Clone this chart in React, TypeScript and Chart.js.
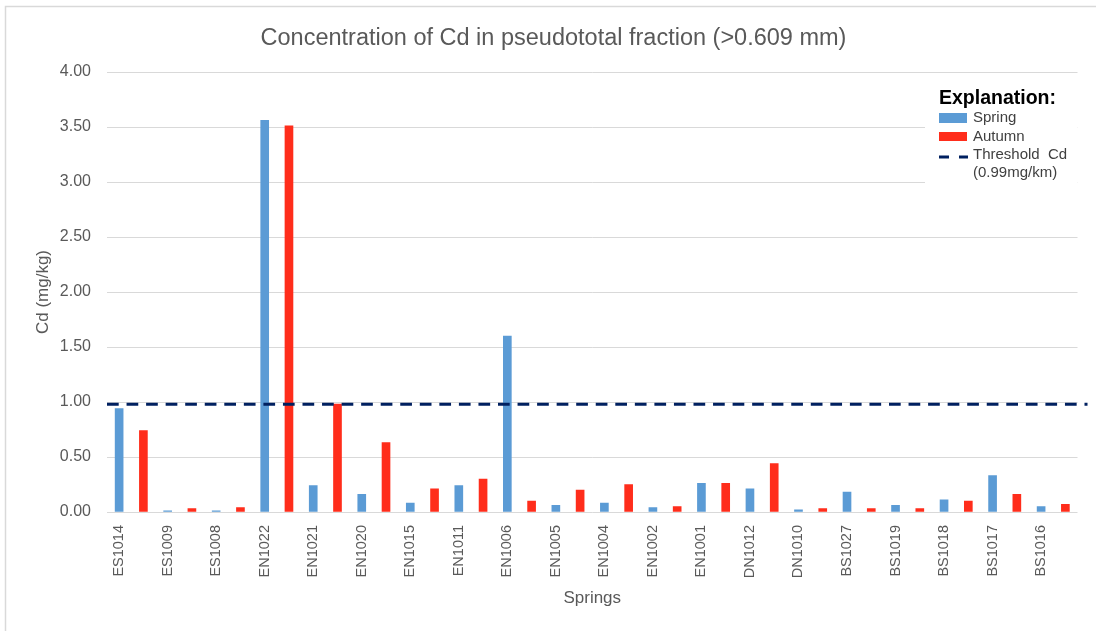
import React, { useEffect, useRef } from 'react';
import { Chart, registerables } from 'chart.js';

Chart.register(...registerables);

const stations = [
  'ES1014', 'ES1009', 'ES1008', 'EN1022', 'EN1021', 'EN1020', 'EN1015', 'EN1011', 'EN1006', 'EN1005',
  'EN1004', 'EN1002', 'EN1001', 'DN1012', 'DN1010', 'BS1027', 'BS1019', 'BS1018', 'BS1017', 'BS1016',
];
const springValues = [0.94, 0.01, 0.01, 3.56, 0.24, 0.16, 0.08, 0.24, 1.6, 0.06, 0.08, 0.04, 0.26, 0.21, 0.02, 0.18, 0.06, 0.11, 0.33, 0.05];
const autumnValues = [0.74, 0.03, 0.04, 3.51, 0.98, 0.63, 0.21, 0.3, 0.1, 0.2, 0.25, 0.05, 0.26, 0.44, 0.03, 0.03, 0.03, 0.1, 0.16, 0.07];
const thresholdValue = 0.98;

const titleText = 'Concentration of Cd in pseudototal fraction (>0.609 mm)';
const yAxisTitle = 'Cd (mg/kg)';
const xAxisTitle = 'Springs';
const legendTitle = 'Explanation:';
const legendSpring = 'Spring';
const legendAutumn = 'Autumn';
const legendThreshold1 = 'Threshold  Cd';
const legendThreshold2 = '(0.99mg/km)';

const FONT = "'Liberation Sans', Arial, Helvetica, sans-serif";
const SPRING_COLOR = '#5B9BD5';
const AUTUMN_COLOR = '#FF2D1B';
const THRESHOLD_COLOR = '#002060';
const AXIS_TEXT = '#595959';
const GRID = '#D9D9D9';

export default function App() {
  const ref = useRef<HTMLCanvasElement>(null);

  useEffect(() => {
    if (!ref.current) return;
    const labels: string[] = [];
    const springData: (number | null)[] = [];
    const autumnData: (number | null)[] = [];
    stations.forEach((s, i) => {
      labels.push(s, s);
      springData.push(springValues[i], null);
      autumnData.push(null, autumnValues[i]);
    });

    const framePlugin = {
      id: 'frame',
      beforeDraw(chart: any) {
        const ctx = chart.ctx;
        ctx.save();
        ctx.fillStyle = '#ffffff';
        ctx.fillRect(0, 0, chart.width, chart.height);
        ctx.strokeStyle = GRID;
        ctx.lineWidth = 1.5;
        ctx.strokeRect(5.5, 6.5, chart.width + 20, chart.height + 20);
        ctx.restore();
      },
    };

    const overlayPlugin = {
      id: 'overlay',
      afterDatasetsDraw(chart: any) {
        const ctx = chart.ctx;
        const area = chart.chartArea;
        const y = chart.scales.y.getPixelForValue(thresholdValue);
        ctx.save();
        // threshold line
        ctx.strokeStyle = THRESHOLD_COLOR;
        ctx.lineWidth = 3;
        ctx.setLineDash([11.7, 7.85]);
        ctx.beginPath();
        ctx.moveTo(area.left, y);
        ctx.lineTo(area.right + 10, y);
        ctx.stroke();
        ctx.setLineDash([]);

        // legend box
        const lx = 925;
        ctx.fillStyle = '#ffffff';
        ctx.fillRect(lx, 80, area.right - lx, 106);
        ctx.textBaseline = 'middle';
        ctx.textAlign = 'left';
        ctx.fillStyle = '#000000';
        ctx.font = `bold 19.5px ${FONT}`;
        ctx.fillText(legendTitle, 939, 98.5);

        ctx.fillStyle = SPRING_COLOR;
        ctx.fillRect(939, 113, 28, 10);
        ctx.fillStyle = AUTUMN_COLOR;
        ctx.fillRect(939, 132, 28, 9);
        ctx.strokeStyle = THRESHOLD_COLOR;
        ctx.lineWidth = 3;
        ctx.beginPath();
        ctx.moveTo(939, 157);
        ctx.lineTo(949, 157);
        ctx.moveTo(959, 157);
        ctx.lineTo(968, 157);
        ctx.stroke();

        ctx.fillStyle = '#404040';
        ctx.font = `15px ${FONT}`;
        ctx.fillText(legendSpring, 973, 118);
        ctx.fillText(legendAutumn, 973, 136.5);
        ctx.fillText(legendThreshold1, 973, 154.5);
        ctx.fillText(legendThreshold2, 973, 172.5);
        ctx.restore();
      },
    };

    const chart = new Chart(ref.current, {
      type: 'bar',
      data: {
        labels,
        datasets: [
          { label: legendSpring, data: springData, backgroundColor: SPRING_COLOR, barThickness: 8, skipNull: true } as any,
          { label: legendAutumn, data: autumnData, backgroundColor: AUTUMN_COLOR, barThickness: 8, skipNull: true } as any,
        ],
      },
      options: {
        responsive: false,
        animation: false,
        layout: { padding: { left: 29, right: 18, top: 6, bottom: 6 } },
        plugins: {
          legend: { display: false },
          tooltip: { enabled: false },
          title: {
            display: true,
            text: titleText,
            color: AXIS_TEXT,
            font: { family: FONT, size: 23.5, weight: 'normal' },
            padding: { top: 18.4, bottom: 19.4 },
          },
        },
        scales: {
          x: {
            offset: true,
            grid: { display: false, drawTicks: false },
            border: { display: false },
            ticks: {
              autoSkip: false,
              minRotation: 90,
              maxRotation: 90,
              padding: 13,
              color: AXIS_TEXT,
              font: { family: FONT, size: 14.5 },
              callback: (_v: any, i: number) => (i % 2 === 0 ? stations[i / 2] : ''),
            },
            title: {
              display: true,
              text: xAxisTitle,
              color: AXIS_TEXT,
              font: { family: FONT, size: 17 },
              padding: { top: 0, bottom: 16 },
            },
            afterFit: (s: any) => {
              s.height = 113;
            },
          },
          y: {
            min: 0,
            max: 4,
            grid: { color: GRID, drawTicks: false, lineWidth: 1 },
            border: { display: false },
            ticks: {
              stepSize: 0.5,
              padding: 16,
              color: AXIS_TEXT,
              font: { family: FONT, size: 16 },
              callback: (v: any) => Number(v).toFixed(2),
            },
            title: {
              display: true,
              text: yAxisTitle,
              color: AXIS_TEXT,
              font: { family: FONT, size: 17 },
              padding: { top: 3.8, bottom: 0 },
            },
            afterFit: (s: any) => {
              s.width = 78;
            },
          },
        },
      } as any,
      plugins: [framePlugin, overlayPlugin],
    });
    return () => chart.destroy();
  }, []);

  return (
    <div style={{ position: 'fixed', left: 0, top: 0, width: 1096, height: 631, background: '#fff' }}>
      <canvas ref={ref} width={1096} height={631} style={{ display: 'block' }} />
    </div>
  );
}
